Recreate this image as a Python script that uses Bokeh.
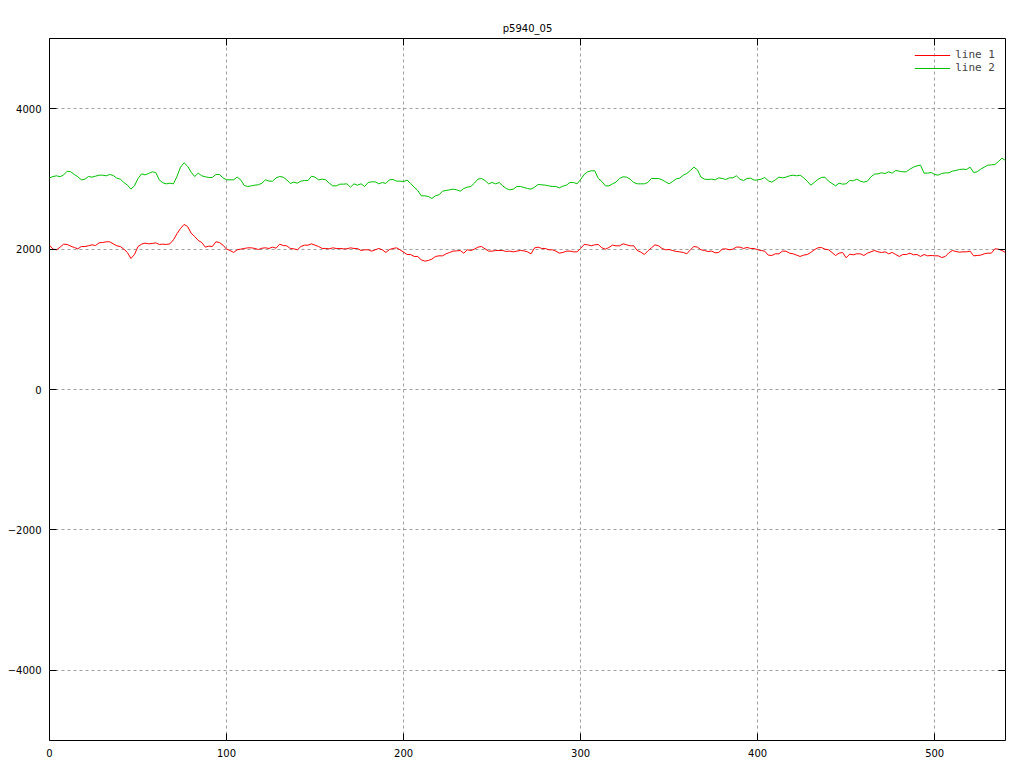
from bokeh.plotting import figure
from bokeh.models import Range1d, Legend, LegendItem, FixedTicker, LinearAxis, CustomJSTickFormatter
from bokeh.embed import file_html
from bokeh.resources import INLINE

title_text = "p5940_05"
x_vals = list(range(0, 541, 2))

line1 = [
    2056, 1999, 1990, 2028, 2070, 2066, 2042, 2023, 2004, 2037, 2037, 2047, 2061, 2051, 2089, 2094, 2104, 2104, 2075, 2047, 2037, 1999, 1952, 1866, 1923, 2037, 2070, 2085, 2075, 2080, 2089, 2066, 2070, 2066, 2075,
    2132, 2218, 2294, 2351, 2322, 2227, 2180, 2123, 2094, 2028, 2042, 2037, 2104, 2094, 2056, 1999, 1980, 1952, 1990, 1999, 2009, 2018, 2018, 2009, 1994, 2013, 2018, 2009, 2028, 2013, 2070, 2051, 2047, 2009,
    2004, 1990, 2037, 2056, 2056, 2075, 2056, 2037, 2009, 2009, 2004, 2018, 2009, 2009, 2004, 2004, 2018, 2009, 2009, 1980, 1990, 1990, 1971, 1990, 2009, 1990, 1952, 1994, 2009, 2018, 1990, 1957, 1923, 1923, 1895,
    1895, 1847, 1828, 1838, 1857, 1895, 1904, 1904, 1933, 1952, 1971, 1975, 1980, 1942, 1990, 1980, 1999, 2028, 2037, 2004, 1971, 1971, 1980, 1980, 1980, 1966, 1971, 1961, 1971, 1980, 1975, 1961, 1933, 2018, 2028,
    2009, 2009, 1990, 1990, 1971, 1942, 1952, 1971, 1971, 1961, 1961, 2009, 2066, 2061, 2047, 2061, 2066, 2018, 1999, 2023, 2056, 2047, 2047, 2075, 2061, 2047, 2047, 1980, 1957, 1923, 1975, 2018, 2061, 2047, 2009, 1990,
    1994, 1980, 1966, 1961, 1952, 1933, 1990, 2037, 2028, 1990, 1980, 1966, 1971, 1947, 1952, 1999, 2004, 1990, 1999, 2028, 2028, 2009, 2023, 2009, 2009, 1990, 1980, 1971, 1914, 1909, 1933, 1933, 1971, 1971, 1942,
    1933, 1914, 1895, 1914, 1923, 1952, 1990, 2018, 2023, 1999, 1990, 1952, 1909, 1942, 1952, 1876, 1928, 1919, 1933, 1933, 1909, 1942, 1961, 1980, 1961, 1952, 1961, 1933, 1952, 1923, 1895, 1923, 1923, 1942, 1919, 1923,
    1895, 1923, 1904, 1909, 1904, 1904, 1880, 1895, 1947, 1980, 1966, 1956, 1961, 1961, 1971, 1904, 1909, 1914, 1933, 1942, 1942, 2004, 1999, 1980, 1952,
]

line2 = [
    3015, 3034, 3044, 3030, 3058, 3110, 3101, 3063, 3030, 2987, 2996, 3034, 3025, 3039, 3053, 3053, 3044, 3063, 3049, 3011, 2996, 2949, 2911, 2854, 2901, 3006, 3072, 3058, 3077, 3101, 3091, 2987, 2944, 2930, 2939,
    2930, 3034, 3167, 3229, 3181, 3096, 3034, 3082, 3044, 3030, 3020, 3020, 3063, 3063, 3015, 2987, 2987, 2987, 3025, 2987, 2906, 2892, 2901, 2911, 2916, 2939, 2987, 2968, 2968, 3015, 3034, 3025, 2987, 2935,
    2954, 2939, 2968, 2977, 2977, 3039, 3025, 2987, 2996, 2987, 2939, 2901, 2901, 2925, 2925, 2930, 2882, 2930, 2911, 2930, 2892, 2949, 2958, 2958, 2930, 2949, 2935, 2987, 2992, 2968, 2968, 2963, 2982, 2935, 2882,
    2835, 2759, 2759, 2749, 2721, 2759, 2773, 2825, 2835, 2844, 2854, 2844, 2825, 2863, 2882, 2892, 2939, 2996, 3006, 2977, 2930, 2949, 2930, 2949, 2901, 2863, 2844, 2854, 2892, 2892, 2878, 2863, 2854, 2882, 2920,
    2916, 2911, 2901, 2892, 2892, 2873, 2897, 2911, 2949, 2949, 2930, 2991, 3063, 3101, 3115, 3115, 3006, 2963, 2901, 2901, 2930, 2954, 3006, 3030, 3025, 2996, 2949, 2930, 2930, 2930, 2949, 3006, 3006, 3006, 2987, 2958,
    2930, 2963, 3001, 3011, 3053, 3077, 3120, 3167, 3129, 3025, 2996, 2992, 2996, 2987, 3015, 3006, 2992, 3015, 3015, 3044, 2996, 2977, 3006, 3011, 2982, 2987, 2996, 3020, 2973, 2954, 2987, 3025, 3015, 3025, 3044,
    3053, 3044, 3053, 3015, 2968, 2911, 2949, 2992, 3020, 3025, 2968, 2935, 2901, 2939, 2925, 2930, 2977, 2973, 2996, 2968, 2954, 2968, 3030, 3068, 3072, 3087, 3077, 3101, 3082, 3120, 3110, 3101, 3101, 3139, 3167, 3186,
    3196, 3082, 3082, 3091, 3063, 3053, 3077, 3086, 3086, 3110, 3120, 3134, 3139, 3134, 3167, 3091, 3101, 3139, 3167, 3196, 3200, 3205, 3248, 3295, 3262,
]

x_ticks = [0, 100, 200, 300, 400, 500]
y_ticks = [-4000, -2000, 0, 2000, 4000]

FONT = "DejaVu Sans"

p = figure(
    frame_width=956, frame_height=702,
    x_range=Range1d(0, 540), y_range=Range1d(-5000, 5000),
    output_backend="svg", toolbar_location=None,
    min_border_left=49, min_border_right=12, min_border_top=38, min_border_bottom=20,
    title=title_text,
)
p.title.align = "center"
p.title.text_font = FONT
p.title.text_font_size = "10px"
p.title.text_font_style = "normal"
p.title.text_color = "black"

p.outline_line_color = "black"
p.outline_line_width = 1
p.outline_line_alpha = 1

for ax in (p.xaxis[0], p.yaxis[0]):
    ax.axis_line_color = None
    ax.major_tick_in = 7
    ax.major_tick_out = 0
    ax.minor_tick_line_color = None
    ax.major_tick_line_color = "black"
    ax.major_label_text_font = FONT
    ax.major_label_text_font_size = "10px"
    ax.major_label_text_color = "black"
    ax.major_label_standoff = 8
p.xaxis[0].ticker = FixedTicker(ticks=x_ticks)
p.yaxis[0].ticker = FixedTicker(ticks=y_ticks)

# mirrored inward ticks on the top and right edges (no labels)
blank = CustomJSTickFormatter(code="return '';")
top_ax = LinearAxis(ticker=FixedTicker(ticks=x_ticks), formatter=blank)
right_ax = LinearAxis(ticker=FixedTicker(ticks=y_ticks), formatter=blank)
for ax in (top_ax, right_ax):
    ax.axis_line_color = None
    ax.major_tick_in = 7
    ax.major_tick_out = 0
    ax.minor_tick_line_color = None
    ax.major_tick_line_color = "black"
    ax.major_label_standoff = 0
p.add_layout(top_ax, "above")
p.add_layout(right_ax, "right")

p.xgrid.ticker = FixedTicker(ticks=x_ticks)
p.ygrid.ticker = FixedTicker(ticks=y_ticks)
for g in (p.xgrid[0], p.ygrid[0]):
    g.grid_line_color = "#a0a0a0"
    g.grid_line_dash = "3 3"
    g.grid_line_width = 1

r1 = p.line(x_vals, line1, line_color="#ff0000", line_width=1)
r2 = p.line(x_vals, line2, line_color="#00c000", line_width=1)

legend = Legend(items=[LegendItem(label="line 1", renderers=[r1]),
                       LegendItem(label="line 2", renderers=[r2])],
                location="top_right")
legend.background_fill_alpha = 0
legend.border_line_alpha = 0
legend.label_text_font = "DejaVu Sans Mono"
legend.label_text_font_size = "11px"
legend.glyph_width = 36
legend.glyph_height = 12
legend.label_height = 12
legend.spacing = 0
legend.padding = 6
legend.margin = 4
p.add_layout(legend)

open("out.html", "w").write(file_html(p, INLINE))
